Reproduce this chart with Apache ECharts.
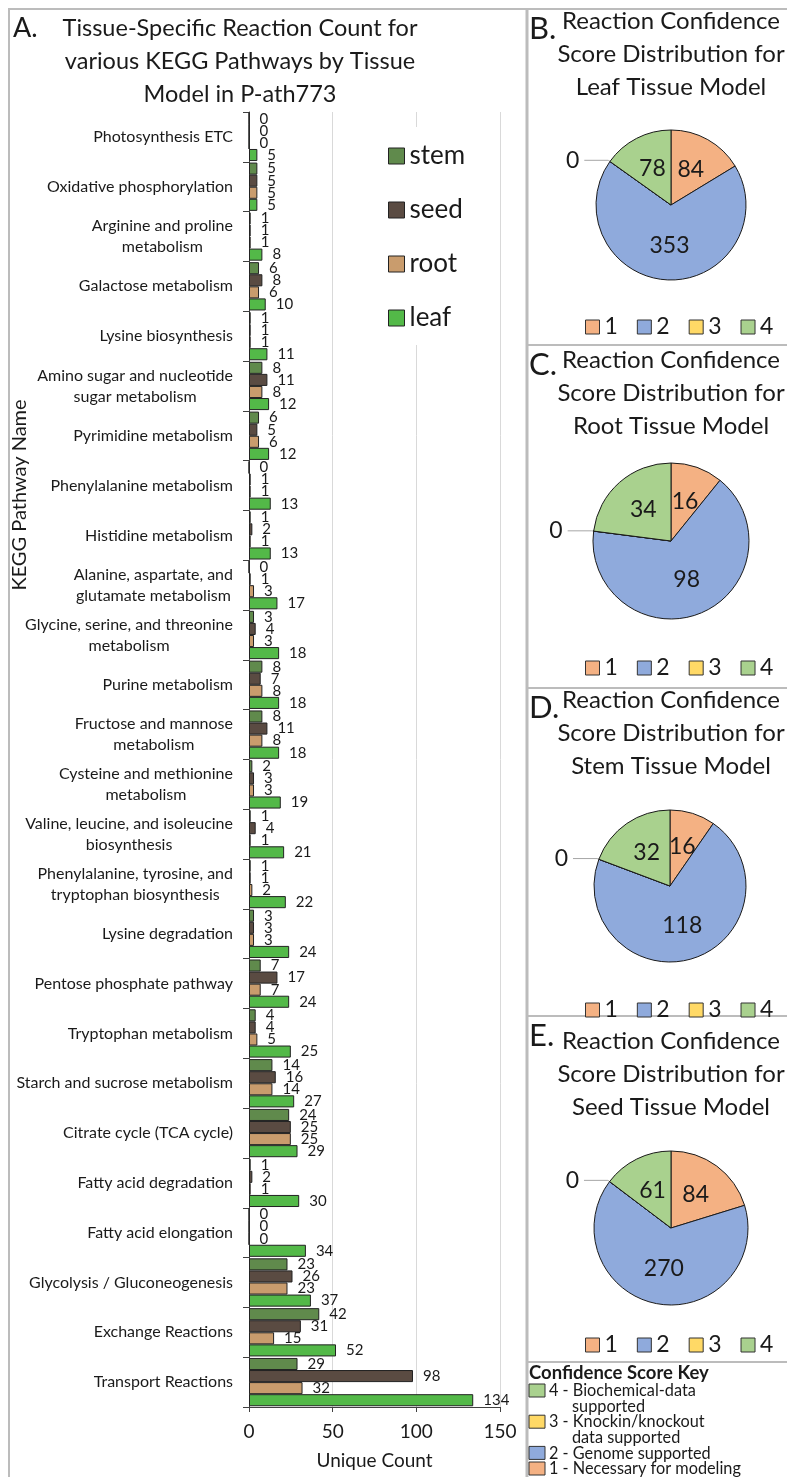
<html>
<head>
<meta charset="utf-8">
<style>
  html, body { margin: 0; padding: 0; background: #fff; }
  #main { width: 787px; height: 1477px; }
</style>
</head>
<body>
<div id="main"></div>
<script src="https://cdn.jsdelivr.net/npm/echarts@6/dist/echarts.min.js"></script>
<script>

// ---- data ----
var pathways = [
  'Photosynthesis ETC',
  'Oxidative phosphorylation',
  'Arginine and proline\nmetabolism',
  'Galactose metabolism',
  'Lysine biosynthesis',
  'Amino sugar and nucleotide\nsugar metabolism',
  'Pyrimidine metabolism',
  'Phenylalanine metabolism',
  'Histidine metabolism',
  'Alanine, aspartate, and\nglutamate metabolism',
  'Glycine, serine, and threonine\nmetabolism',
  'Purine metabolism',
  'Fructose and mannose\nmetabolism',
  'Cysteine and methionine\nmetabolism',
  'Valine, leucine, and isoleucine\nbiosynthesis',
  'Phenylalanine, tyrosine, and\ntryptophan biosynthesis',
  'Lysine degradation',
  'Pentose phosphate pathway',
  'Tryptophan metabolism',
  'Starch and sucrose metabolism',
  'Citrate cycle (TCA cycle)',
  'Fatty acid degradation',
  'Fatty acid elongation',
  'Glycolysis / Gluconeogenesis',
  'Exchange Reactions',
  'Transport Reactions'
];
var stem = [0, 5, 1, 6, 1, 8, 6, 0, 1, 0, 3, 8, 8, 2, 1, 1, 3, 7, 4, 14, 24, 1, 0, 23, 42, 29];
var seed = [0, 5, 1, 8, 1, 11, 5, 1, 2, 1, 4, 7, 11, 3, 4, 1, 3, 17, 4, 16, 25, 2, 0, 26, 31, 98];
var root = [0, 5, 1, 6, 1, 8, 6, 1, 1, 3, 3, 8, 8, 3, 1, 2, 3, 7, 5, 14, 25, 1, 0, 23, 15, 32];
var leaf = [5, 5, 8, 10, 11, 12, 12, 13, 13, 17, 18, 18, 18, 19, 21, 22, 24, 24, 25, 27, 29, 30, 34, 37, 52, 134];
var tissues = ['stem', 'seed', 'root', 'leaf'];
var xTicks = [0, 50, 100, 150];

var scoreNames = ['1', '2', '3', '4'];
var leafScores = [84, 353, 0, 78];
var rootScores = [16, 98, 0, 34];
var stemScores = [16, 118, 0, 32];
var seedScores = [84, 270, 0, 61];
var keyText = [
  ['4 - Biochemical-data', 'supported'],
  ['3 - Knockin/knockout', 'data supported'],
  ['2 - Genome supported'],
  ['1 - Necessary for modeling']
];

// ---- styling ----
var FONT = 'Lato';
var INK = '#1a1a1a';
var tissueColors = ['#608a4c', '#5a4b42', '#c99c6d', '#53b948'];
var scoreColors = ['#f4b183', '#8faadc', '#ffd966', '#a9d18e'];
var keyColorIdx = [3, 2, 1, 0];
var BORDER = '#bcbcbc';

var panels = [
  { letter: 'B.', tissue: 'Leaf', scores: leafScores, top: 9, titleY: 5, cx: 671, cy: 205, r: 75, legY: 322 },
  { letter: 'C.', tissue: 'Root', scores: rootScores, top: 345, titleY: 344, cx: 671, cy: 541, r: 78, legY: 663 },
  { letter: 'D.', tissue: 'Stem', scores: stemScores, top: 688, titleY: 684, cx: 670, cy: 886, r: 76, legY: 1005 },
  { letter: 'E.', tissue: 'Seed', scores: seedScores, top: 1016, titleY: 1025, cx: 671, cy: 1228, r: 77, legY: 1340 }
];

var chart = echarts.init(document.getElementById('main'));

var series = tissues.map(function (t, i) {
  return {
    name: t,
    type: 'bar',
    data: [stem, seed, root, leaf][i],
    barGap: '0%',
    barCategoryGap: '3%',
    itemStyle: { color: tissueColors[i], borderColor: '#222', borderWidth: 1 },
    label: { show: true, position: 'right', distance: 10, fontSize: 15, fontFamily: FONT, color: INK }
  };
});

panels.forEach(function (p) {
  series.push({
    type: 'pie',
    center: [p.cx, p.cy],
    radius: p.r,
    startAngle: 90,
    clockwise: true,
    avoidLabelOverlap: false,
    itemStyle: { borderColor: INK, borderWidth: 1 },
    label: { position: 'inside', formatter: '{c}', fontSize: 23, fontFamily: FONT, color: INK },
    labelLine: { show: false },
    data: scoreNames.map(function (n, i) {
      var item = { name: n, value: p.scores[i], itemStyle: { color: scoreColors[i] } };
      if (p.scores[i] === 0) {
        item.label = { position: 'outside', formatter: '{c}', fontSize: 23, fontFamily: FONT, color: INK };
        item.labelLine = { show: true, length: 2, length2: 24, lineStyle: { color: '#a6a6a6', width: 1 } };
      }
      return item;
    })
  });
});

var legends = [{
  data: tissues,
  orient: 'vertical',
  left: 340,
  top: 127,
  padding: [16, 26, 14, 48],
  backgroundColor: '#fff',
  icon: 'rect',
  itemWidth: 16,
  itemHeight: 16,
  itemGap: 28,
  itemStyle: { borderColor: '#222', borderWidth: 1 },
  textStyle: { fontSize: 26, lineHeight: 26, fontFamily: FONT, color: INK }
}];
panels.forEach(function (p) {
  legends.push({
    data: scoreNames,
    orient: 'horizontal',
    left: 580,
    top: p.legY - 13,
    icon: 'rect',
    itemWidth: 14,
    itemHeight: 14,
    itemGap: 19,
    itemStyle: { borderColor: '#333', borderWidth: 1 },
    textStyle: { fontSize: 23, lineHeight: 26, fontFamily: FONT, color: INK }
  });
});

var graphics = [
  { type: 'rect', shape: { x: 9, y: 9, width: 518, height: 1490 }, style: { fill: 'none', stroke: BORDER, lineWidth: 2 }, silent: true },
  { type: 'line', shape: { x1: 527, y1: 9, x2: 527, y2: 1477 }, style: { stroke: BORDER, lineWidth: 3 }, silent: true },
  { type: 'text', x: 13, y: 15, style: { text: 'A.', font: '27px ' + FONT, fill: INK } },
  { type: 'text', x: 240, y: 12, style: { text: 'Tissue-Specific Reaction Count for\nvarious KEGG Pathways by Tissue\nModel in P-ath773', font: '23.5px ' + FONT, lineHeight: 33, fill: INK, textAlign: 'center', align: 'center' } },
  { type: 'text', x: 20, y: 495, rotation: Math.PI / 2, style: { text: 'KEGG Pathway Name', font: '20px ' + FONT, fill: INK, textAlign: 'center', align: 'center', textVerticalAlign: 'middle', verticalAlign: 'middle' } }
];
panels.forEach(function (p) {
  graphics.push({ type: 'line', shape: { x1: 527, y1: p.top, x2: 787, y2: p.top }, style: { stroke: BORDER, lineWidth: 2 }, silent: true });
  graphics.push({ type: 'text', x: 529, y: p.top + 4, style: { text: p.letter, font: '31px ' + FONT, fill: INK } });
  graphics.push({ type: 'text', x: 671, y: p.titleY, style: { text: 'Reaction Confidence\nScore Distribution for\n' + p.tissue + ' Tissue Model', font: '24px ' + FONT, lineHeight: 33, fill: INK, textAlign: 'center', align: 'center' } });
});

// confidence score key
graphics.push({ type: 'line', shape: { x1: 527, y1: 1362, x2: 787, y2: 1362 }, style: { stroke: BORDER, lineWidth: 2 }, silent: true });
graphics.push({ type: 'text', x: 529, y: 1373, style: { text: 'Confidence Score Key', font: 'bold 18.5px ' + FONT, fill: INK, textVerticalAlign: 'middle', verticalAlign: 'middle' } });
var ky = 1391;
keyText.forEach(function (lines, k) {
  graphics.push({ type: 'rect', shape: { x: 529, y: ky - 7, width: 16, height: 13 }, style: { fill: scoreColors[keyColorIdx[k]], stroke: '#333', lineWidth: 1 } });
  lines.forEach(function (ln, j) {
    graphics.push({ type: 'text', x: j === 0 ? 549 : 572, y: ky, style: { text: ln, font: '16.3px ' + FONT, fill: INK, textVerticalAlign: 'middle', verticalAlign: 'middle' } });
    ky += 15.6;
  });
});

chart.setOption({
  animation: false,
  textStyle: { fontFamily: FONT },
  grid: { left: 249, right: 287, top: 112, bottom: 70 },
  legend: legends,
  xAxis: {
    type: 'value',
    min: xTicks[0],
    max: xTicks[xTicks.length - 1],
    interval: xTicks[1] - xTicks[0],
    axisLine: { show: true, lineStyle: { color: '#404040', width: 1 } },
    axisTick: { show: true, length: 5, lineStyle: { color: '#404040' } },
    splitLine: { show: true, lineStyle: { color: '#d9d9d9', width: 1 } },
    axisLabel: { fontSize: 19, margin: 15, color: INK, fontFamily: FONT },
    name: 'Unique Count',
    nameLocation: 'middle',
    nameGap: 44,
    nameTextStyle: { fontSize: 19, color: INK, fontFamily: FONT }
  },
  yAxis: {
    type: 'category',
    data: pathways,
    inverse: true,
    axisLine: { show: true, lineStyle: { color: '#404040', width: 1 } },
    axisTick: { show: true, length: 6, lineStyle: { color: '#404040' } },
    splitLine: { show: false },
    axisLabel: {
      interval: 0,
      margin: 16,
      formatter: function (v) {
        return v.split('\n').map(function (l) { return '{c|' + l + '}'; }).join('\n');
      },
      rich: { c: { align: 'center', fontSize: 16, lineHeight: 21, fontFamily: FONT, color: INK } }
    }
  },
  series: series,
  graphic: graphics
});
</script>
</body>
</html>
